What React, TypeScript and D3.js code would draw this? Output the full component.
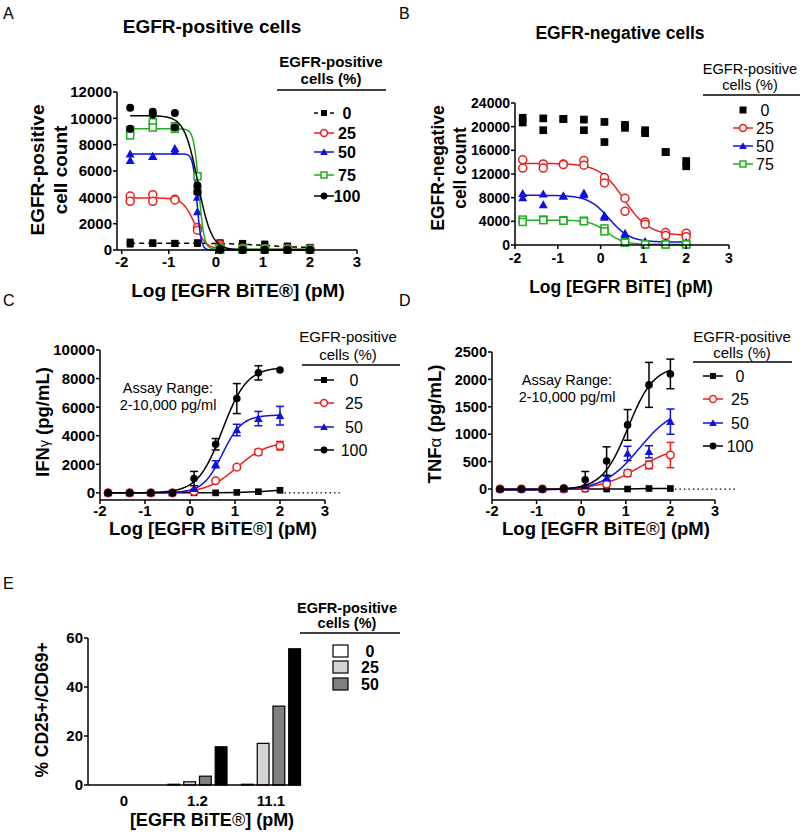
import * as d3 from "d3";

// log10 doses (pM), 3-fold dilution series
const doses = [-1.82, -1.34, -0.87, -0.39, 0.09, 0.57, 1.04, 1.52, 2.0];

// Panel A: EGFR-positive cell counts (two replicates per dose)
const posCells0 = [[600, 450], [550, 500], [500, 500], [550, 500], [550, 450], [500, 450], [450, 350], [300, 250], [200, 150]];
const posCells25 = [[4100, 3700], [4200, 3700], [3850, 3800], [1700, 1500], [400, 250], [150, 100], [100, 50], [100, 50], [50, 30]];
const posCells50 = [[7300, 6800], [7100, 7100], [7700, 7500], [4000, 2900], [50, 0], [0, 0], [0, 0], [0, 0], [0, 0]];
const posCells75 = [[9100, 8700], [9700, 9300], [9400, 9200], [5600, 4500], [150, 50], [100, 50], [100, 50], [80, 50], [80, 50]];
const posCells100 = [[10800, 9200], [10500, 10300], [10400, 9300], [4900, 4400], [50, 0], [0, 0], [0, 0], [0, 0], [0, 0]];
// fit params: [left plateau, right plateau, logEC50, hill]
const fitPos0 = [520, 150, 1.1, 1];
const fitPos25 = [3950, 50, -0.45, 3.5];
const fitPos50 = [7300, 0, -0.4, 10];
const fitPos75 = [9200, 50, -0.36, 8];
const fitPos100 = [10200, 0, -0.38, 3];

// Panel B: EGFR-negative cell counts
const negCells0 = [[21500, 20700], [21400, 19400], [21300, 21300], [21200, 19400], [20800, 17400], [20300, 19800], [19400, 18900], [15700, 15700], [14200, 13300]];
const negCells25 = [[14400, 13000], [13700, 13000], [13700, 13600], [14300, 13500], [11400, 10500], [7900, 5700], [3900, 3500], [2100, 1600], [2000, 1400]];
const negCells50 = [[8700, 8000], [8600, 6800], [8300, 8300], [8800, 8500], [5000, 4700], [2000, 1700], [600, 500], [400, 400], [400, 400]];
const negCells75 = [[4300, 3900], [4300, 4200], [4200, 4100], [4100, 4000], [2800, 2300], [500, 400], [100, 100], [100, 100], [100, 100]];
const fitNeg25 = [13800, 1600, 0.55, 1.5];
const fitNeg50 = [8400, 500, 0.2, 1.8];
const fitNeg75 = [4200, 100, 0.15, 2.2];

// Panel C: IFN-gamma (mean, sd)
const ifn0 = [0, 0, 0, 0, 0, 0, 30, 80, 180];
const ifn25 = [0, 0, 0, 0, 100, 850, 1800, 2850, 3300];
const ifn25Err = [0, 0, 0, 0, 0, 0, 150, 200, 300];
const ifn50 = [0, 0, 0, 0, 300, 2000, 4400, 5200, 5400];
const ifn50Err = [0, 0, 0, 0, 0, 250, 400, 500, 650];
const ifn100 = [0, 0, 0, 0, 1000, 3400, 6600, 8400, 8600];
const ifn100Err = [0, 0, 0, 0, 500, 400, 1050, 500, 0];
const fitIfn25 = [0, 3600, 1.05, 1.3];
const fitIfn50 = [0, 5450, 0.72, 2.0];
const fitIfn100 = [0, 8800, 0.72, 1.6];

// Panel D: TNF-alpha (mean, sd)
const tnf0 = [0, 0, 0, 0, 0, 0, 0, 10, 10];
const tnf25 = [0, 0, 0, 0, 20, 90, 290, 440, 620];
const tnf25Err = [0, 0, 0, 0, 0, 30, 60, 70, 230];
const tnf50 = [0, 0, 0, 0, 50, 200, 650, 680, 1230];
const tnf50Err = [0, 0, 0, 0, 0, 40, 130, 110, 230];
const tnf100 = [0, 0, 0, 20, 170, 510, 1170, 1900, 2100];
const tnf100Err = [0, 0, 0, 0, 150, 260, 280, 410, 270];
const fitTnf25 = [-10, 800, 1.3, 1.0];
const fitTnf50 = [-20, 1500, 1.3, 1.1];
const fitTnf100 = [-10, 2250, 1.05, 1.5];

// Panel E: % CD25+/CD69+
const eCats = ["0", "1.2", "11.1"];
const eKeys = ["0", "25", "50", "100"];
const act0 = [0, 0.3, 0.3];
const act25 = [0, 1.3, 17];
const act50 = [0, 3.6, 32.2];
const act100 = [0, 15.6, 55.6];

const xTicks = [-2, -1, 0, 1, 2, 3];
const aYTicks = [0, 2000, 4000, 6000, 8000, 10000, 12000];
const bYTicks = [0, 4000, 8000, 12000, 16000, 20000, 24000];
const cYTicks = [0, 2000, 4000, 6000, 8000, 10000];
const dYTicks = [0, 500, 1000, 1500, 2000, 2500];
const eYTicks = [0, 20, 40, 60];

const BLACK = "#000";
const RED = "#e8201c";
const BLUE = "#1010e0";
const GREEN = "#1fae1f";
const F = "Arial, 'Liberation Sans', Helvetica, sans-serif";

const fourPL = (p, x) => p[0] + (p[1] - p[0]) / (1 + Math.pow(10, (p[2] - x) * p[3]));
// decreasing fits: p = [top, bottom, ec50, hill]
const fourPLdown = (p, x) => p[1] + (p[0] - p[1]) / (1 + Math.pow(10, (x - p[2]) * p[3]));

function Marker({ kind, x, y, color, s = 1 }) {
  if (kind === "sq") return <rect x={x - 3.5 * s} y={y - 3.5 * s} width={7 * s} height={7 * s} fill={color} />;
  if (kind === "osq")
    return <rect x={x - 3.5 * s} y={y - 3.5 * s} width={7 * s} height={7 * s} fill="#fff" stroke={color} strokeWidth={1.5} />;
  if (kind === "ci") return <circle cx={x} cy={y} r={4 * s} fill={color} />;
  if (kind === "oci") return <circle cx={x} cy={y} r={4 * s} fill="#fff" stroke={color} strokeWidth={1.5} />;
  return <path d={`M${x},${y - 4.5 * s}L${x + 4.5 * s},${y + 3.5 * s}L${x - 4.5 * s},${y + 3.5 * s}Z`} fill={color} />;
}

function Axes({ x, y, yTicks, xt = xTicks, fs, xOff = 18 }) {
  const [x0, x1] = x.range();
  const [y0, y1] = y.range();
  const fmt = d3.format("d");
  return (
    <g fontFamily={F} fontWeight="bold" fontSize={fs}>
      <line x1={x0} x2={x0} y1={y0} y2={y1} stroke={BLACK} strokeWidth={1.5} />
      <line x1={x0} x2={x1} y1={y0} y2={y0} stroke={BLACK} strokeWidth={1.5} />
      {yTicks.map((t) => (
        <g key={"y" + t}>
          <line x1={x0 - 4} x2={x0} y1={y(t)} y2={y(t)} stroke={BLACK} strokeWidth={1.5} />
          <text x={x0 - 5} y={y(t)} dy="0.36em" textAnchor="end">{fmt(t)}</text>
        </g>
      ))}
      {xt.map((t) => (
        <g key={"x" + t}>
          <line x1={x(t)} x2={x(t)} y1={y0} y2={y0 + 4} stroke={BLACK} strokeWidth={1.5} />
          <text x={x(t)} y={y0 + xOff} textAnchor="middle">{t}</text>
        </g>
      ))}
    </g>
  );
}

const fitLine = (x, y, f, p) =>
  d3.line()(d3.range(doses[0], doses[doses.length - 1] + 0.001, 0.01).map((v) => [x(v), y(f(p, v))]));

function Legend({ items, hx, h1, h2, lineY, lx1, lx2, mx, tx, hfs, hw, efs, ew }) {
  return (
    <g fontFamily={F}>
      <text x={hx} y={h1} textAnchor="middle" fontSize={hfs} fontWeight={hw}>EGFR-positive</text>
      <text x={hx} y={h2} textAnchor="middle" fontSize={hfs} fontWeight={hw}>cells (%)</text>
      <line x1={lx1} x2={lx2} y1={lineY} y2={lineY} stroke={BLACK} strokeWidth={1.5} />
      {items.map((it) => (
        <g key={it.label}>
          {!it.noLine && (
            <line x1={mx - 10} x2={mx + 10} y1={it.y} y2={it.y} stroke={it.color} strokeWidth={1.5}
              strokeDasharray={it.dash ? "4,4" : null} />
          )}
          <Marker kind={it.kind} x={mx} y={it.y} color={it.color} s={it.s || 0.85} />
          <text x={tx} y={it.y} dy="0.36em" textAnchor="middle" fontSize={efs} fontWeight={ew}>{it.label}</text>
        </g>
      ))}
    </g>
  );
}

function ReplicatePanel({ x, y, series }) {
  return (
    <g>
      {series.map((s) => (
        <g key={s.label}>
          {s.fit && (
            <path d={fitLine(x, y, fourPLdown, s.fit)} fill="none" stroke={s.color} strokeWidth={1.5}
              strokeDasharray={s.dash || null} />
          )}
          {s.pts.map((pair, i) =>
            pair.map((v, j) => <Marker key={i + "-" + j} kind={s.kind} x={x(doses[i])} y={y(v)} color={s.color} s={s.s || 1} />)
          )}
        </g>
      ))}
    </g>
  );
}

function MeanPanel({ x, y, series, dotTo }) {
  return (
    <g>
      <line x1={x(2)} x2={x(dotTo)} y1={y(0)} y2={y(0)} stroke={BLACK} strokeWidth={1.3} strokeDasharray="1.5,3" />
      {series.map((s) => (
        <g key={s.label}>
          {s.fit ? (
            <path d={fitLine(x, y, fourPL, s.fit)} fill="none" stroke={s.color} strokeWidth={1.5} />
          ) : (
            <path d={d3.line()(s.vals.map((v, i) => [x(doses[i]), y(v)]))} fill="none" stroke={s.color} strokeWidth={1.5} />
          )}
          {s.err &&
            s.vals.map((v, i) =>
              s.err[i] > 0 ? (
                <g key={"e" + i} stroke={s.color} strokeWidth={1.5}>
                  <line x1={x(doses[i])} x2={x(doses[i])} y1={y(v - s.err[i])} y2={y(v + s.err[i])} />
                  <line x1={x(doses[i]) - 4} x2={x(doses[i]) + 4} y1={y(v - s.err[i])} y2={y(v - s.err[i])} />
                  <line x1={x(doses[i]) - 4} x2={x(doses[i]) + 4} y1={y(v + s.err[i])} y2={y(v + s.err[i])} />
                </g>
              ) : null
            )}
          {s.vals.map((v, i) => (
            <Marker key={i} kind={s.kind} x={x(doses[i])} y={y(v)} color={s.color} s={0.95} />
          ))}
        </g>
      ))}
    </g>
  );
}

export default function App() {
  // Panel A
  const xA = d3.scaleLinear().domain([-2.1, 3]).range([117, 357]);
  const yA = d3.scaleLinear().domain([0, 12000]).range([250, 92]);
  const aSeries = [
    { label: "0", kind: "sq", color: BLACK, pts: posCells0, fit: fitPos0, dash: "5,4" },
    { label: "25", kind: "oci", color: RED, pts: posCells25, fit: fitPos25 },
    { label: "50", kind: "tri", color: BLUE, pts: posCells50, fit: fitPos50 },
    { label: "75", kind: "osq", color: GREEN, pts: posCells75, fit: fitPos75 },
    { label: "100", kind: "ci", color: BLACK, pts: posCells100, fit: fitPos100 },
  ];
  // Panel B
  const xB = d3.scaleLinear().domain([-2, 3]).range([515, 729]);
  const yB = d3.scaleLinear().domain([0, 24000]).range([245, 103]);
  const bSeries = [
    { label: "0", kind: "sq", color: BLACK, pts: negCells0, s: 1.1 },
    { label: "25", kind: "oci", color: RED, pts: negCells25, fit: fitNeg25 },
    { label: "50", kind: "tri", color: BLUE, pts: negCells50, fit: fitNeg50 },
    { label: "75", kind: "osq", color: GREEN, pts: negCells75, fit: fitNeg75 },
  ];
  // Panel C
  const xC = d3.scaleLinear().domain([-2, 3]).range([100, 325]);
  const yC = d3.scaleLinear().domain([-500, 10000]).range([500, 350]);
  const cSeries = [
    { label: "0", kind: "sq", color: BLACK, vals: ifn0 },
    { label: "25", kind: "oci", color: RED, vals: ifn25, err: ifn25Err, fit: fitIfn25 },
    { label: "50", kind: "tri", color: BLUE, vals: ifn50, err: ifn50Err, fit: fitIfn50 },
    { label: "100", kind: "ci", color: BLACK, vals: ifn100, err: ifn100Err, fit: fitIfn100 },
  ];
  // Panel D
  const xD = d3.scaleLinear().domain([-2, 3]).range([492, 715]);
  const yD = d3.scaleLinear().domain([-200, 2500]).range([500, 352]);
  const dSeries = [
    { label: "0", kind: "sq", color: BLACK, vals: tnf0 },
    { label: "25", kind: "oci", color: RED, vals: tnf25, err: tnf25Err, fit: fitTnf25 },
    { label: "50", kind: "tri", color: BLUE, vals: tnf50, err: tnf50Err, fit: fitTnf50 },
    { label: "100", kind: "ci", color: BLACK, vals: tnf100, err: tnf100Err, fit: fitTnf100 },
  ];
  // Panel E
  const xE = d3.scalePoint().domain(eCats).range([124, 271]);
  const xSub = d3.scaleBand().domain(eKeys).range([-29.5, 29.5]).paddingInner(0.25);
  const yE = d3.scaleLinear().domain([0, 60]).range([785, 638]);
  const eVals = { "0": act0, "25": act25, "50": act50, "100": act100 };
  const eFill = { "0": "#ffffff", "25": "#d4d4d4", "50": "#808080", "100": "#000000" };

  const cdItems = (ys) => [
    { label: "0", kind: "sq", color: BLACK, y: ys[0] },
    { label: "25", kind: "oci", color: RED, y: ys[1] },
    { label: "50", kind: "tri", color: BLUE, y: ys[2] },
    { label: "100", kind: "ci", color: BLACK, y: ys[3] },
  ];

  return (
    <svg width={800} height={835} style={{ position: "absolute", left: 0, top: 0, background: "#fff" }}>
      <rect width={800} height={835} fill="#fff" />
      <g fontFamily={F} fontSize={16}>
        <text x={3} y={19}>A</text>
        <text x={399} y={19}>B</text>
        <text x={3} y={306}>C</text>
        <text x={399} y={306}>D</text>
        <text x={3} y={589}>E</text>
      </g>

      {/* Panel A */}
      <text x={212} y={33} textAnchor="middle" fontFamily={F} fontWeight="bold" fontSize={19}>EGFR-positive cells</text>
      <g fontFamily={F} fontWeight="bold" fontSize={19} textAnchor="middle">
        <text transform="translate(44,170) rotate(-90)">EGFR-positive</text>
        <text transform="translate(67,170) rotate(-90)">cell count</text>
        <text x={238} y={297}>Log [EGFR BiTE®] (pM)</text>
      </g>
      <ReplicatePanel x={xA} y={yA} series={aSeries} />
      <Axes x={xA} y={yA} yTicks={aYTicks} fs={15} xOff={17} />
      <Legend
        hx={331} h1={67} h2={84} lineY={90} lx1={277} lx2={386} mx={324} tx={347} hfs={15} hw="bold" efs={16} ew="bold"
        items={[
          { label: "0", kind: "sq", color: BLACK, y: 113, dash: true },
          { label: "25", kind: "oci", color: RED, y: 133 },
          { label: "50", kind: "tri", color: BLUE, y: 152 },
          { label: "75", kind: "osq", color: GREEN, y: 175 },
          { label: "100", kind: "ci", color: BLACK, y: 196 },
        ]}
      />

      {/* Panel B */}
      <text x={620} y={39} textAnchor="middle" fontFamily={F} fontWeight="bold" fontSize={17.5}>EGFR-negative cells</text>
      <g fontFamily={F} fontWeight="bold" fontSize={17.5} textAnchor="middle">
        <text transform="translate(444,168) rotate(-90)">EGFR-negative</text>
        <text transform="translate(466,168) rotate(-90)">cell count</text>
        <text x={621} y={293}>Log [EGFR BiTE] (pM)</text>
      </g>
      <ReplicatePanel x={xB} y={yB} series={bSeries} />
      <Axes x={xB} y={yB} yTicks={bYTicks} fs={14} />
      <Legend
        hx={750} h1={74} h2={90} lineY={95} lx1={703} lx2={800} mx={743} tx={765} hfs={14.5} hw="normal" efs={16} ew="normal"
        items={[
          { label: "0", kind: "sq", color: BLACK, y: 110, noLine: true, s: 1 },
          { label: "25", kind: "oci", color: RED, y: 128 },
          { label: "50", kind: "tri", color: BLUE, y: 146 },
          { label: "75", kind: "osq", color: GREEN, y: 164 },
        ]}
      />

      {/* Panel C */}
      <g fontFamily={F} fontWeight="bold" fontSize={18.5} textAnchor="middle">
        <text transform="translate(49,422) rotate(-90)">
          IFN<tspan fontWeight="normal" fontSize={14}>γ</tspan> (pg/mL)
        </text>
        <text x={213} y={535}>Log [EGFR BiTE<tspan fontWeight="normal">®</tspan>] (pM)</text>
      </g>
      <g fontFamily={F} fontSize={14.5} textAnchor="middle">
        <text x={168} y={393}>Assay Range:</text>
        <text x={168} y={410}>2-10,000 pg/ml</text>
      </g>
      <MeanPanel x={xC} y={yC} series={cSeries} dotTo={3.33} />
      <Axes x={xC} y={yC} yTicks={cYTicks} fs={15} xOff={16} />
      <Legend
        hx={348} h1={342} h2={360} lineY={365} lx1={302} lx2={400} mx={324} tx={354} hfs={15} hw="normal" efs={16} ew="normal"
        items={cdItems([380, 403, 427, 450])}
      />

      {/* Panel D */}
      <g fontFamily={F} fontWeight="bold" fontSize={18.5} textAnchor="middle">
        <text transform="translate(441,424) rotate(-90)">
          TNF<tspan fontWeight="normal" fontSize={17}>α</tspan> (pg/mL)
        </text>
        <text x={606} y={535}>Log [EGFR BiTE<tspan fontWeight="normal">®</tspan>] (pM)</text>
      </g>
      <g fontFamily={F} fontSize={14.5} textAnchor="middle">
        <text x={567} y={385}>Assay Range:</text>
        <text x={567} y={402}>2-10,000 pg/ml</text>
      </g>
      <MeanPanel x={xD} y={yD} series={dSeries} dotTo={3.45} />
      <Axes x={xD} y={yD} yTicks={dYTicks} fs={14.5} xOff={16} />
      <Legend
        hx={742} h1={342} h2={358} lineY={362} lx1={693} lx2={792} mx={713} tx={740} hfs={15} hw="normal" efs={16} ew="normal"
        items={cdItems([376, 399, 423, 446])}
      />

      {/* Panel E */}
      <g fontFamily={F} fontWeight="bold" fontSize={17.5} textAnchor="middle">
        <text transform="translate(48,710) rotate(-90)">% CD25+/CD69+</text>
        <text x={212} y={826} fontSize={18}>[EGFR BiTE<tspan fontWeight="normal">®</tspan>] (pM)</text>
      </g>
      {eCats.map((c, ci) =>
        eKeys.map((k) => (
          <rect key={c + k} x={xE(c) + xSub(k)} width={xSub.bandwidth()} y={yE(eVals[k][ci])}
            height={yE(0) - yE(eVals[k][ci])} fill={eFill[k]} stroke={BLACK} strokeWidth={1.2} />
        ))
      )}
      <g fontFamily={F} fontWeight="bold" fontSize={15}>
        <line x1={88} x2={88} y1={yE(60)} y2={yE(0)} stroke={BLACK} strokeWidth={1.5} />
        <line x1={88} x2={301} y1={yE(0)} y2={yE(0)} stroke={BLACK} strokeWidth={1.5} />
        {eYTicks.map((t) => (
          <g key={t}>
            <line x1={84} x2={88} y1={yE(t)} y2={yE(t)} stroke={BLACK} strokeWidth={1.5} />
            <text x={83} y={yE(t)} dy="0.36em" textAnchor="end">{t}</text>
          </g>
        ))}
        {eCats.map((c) => (
          <text key={c} x={xE(c)} y={806} textAnchor="middle">{c}</text>
        ))}
      </g>
      <g fontFamily={F}>
        <text x={347} y={613} textAnchor="middle" fontSize={14.5} fontWeight="bold">EGFR-positive</text>
        <text x={347} y={628} textAnchor="middle" fontSize={14.5} fontWeight="bold">cells (%)</text>
        <line x1={300} x2={400} y1={633} y2={633} stroke={BLACK} strokeWidth={1.5} />
        {["0", "25", "50"].map((k, i) => (
          <g key={k}>
            <rect x={333} y={[651, 667, 684][i] - 6} width={15} height={12} fill={eFill[k]} stroke={BLACK} strokeWidth={1.2} />
            <text x={370} y={[651, 667, 684][i]} dy="0.36em" textAnchor="middle" fontSize={16} fontWeight="bold">{k}</text>
          </g>
        ))}
      </g>
    </svg>
  );
}
